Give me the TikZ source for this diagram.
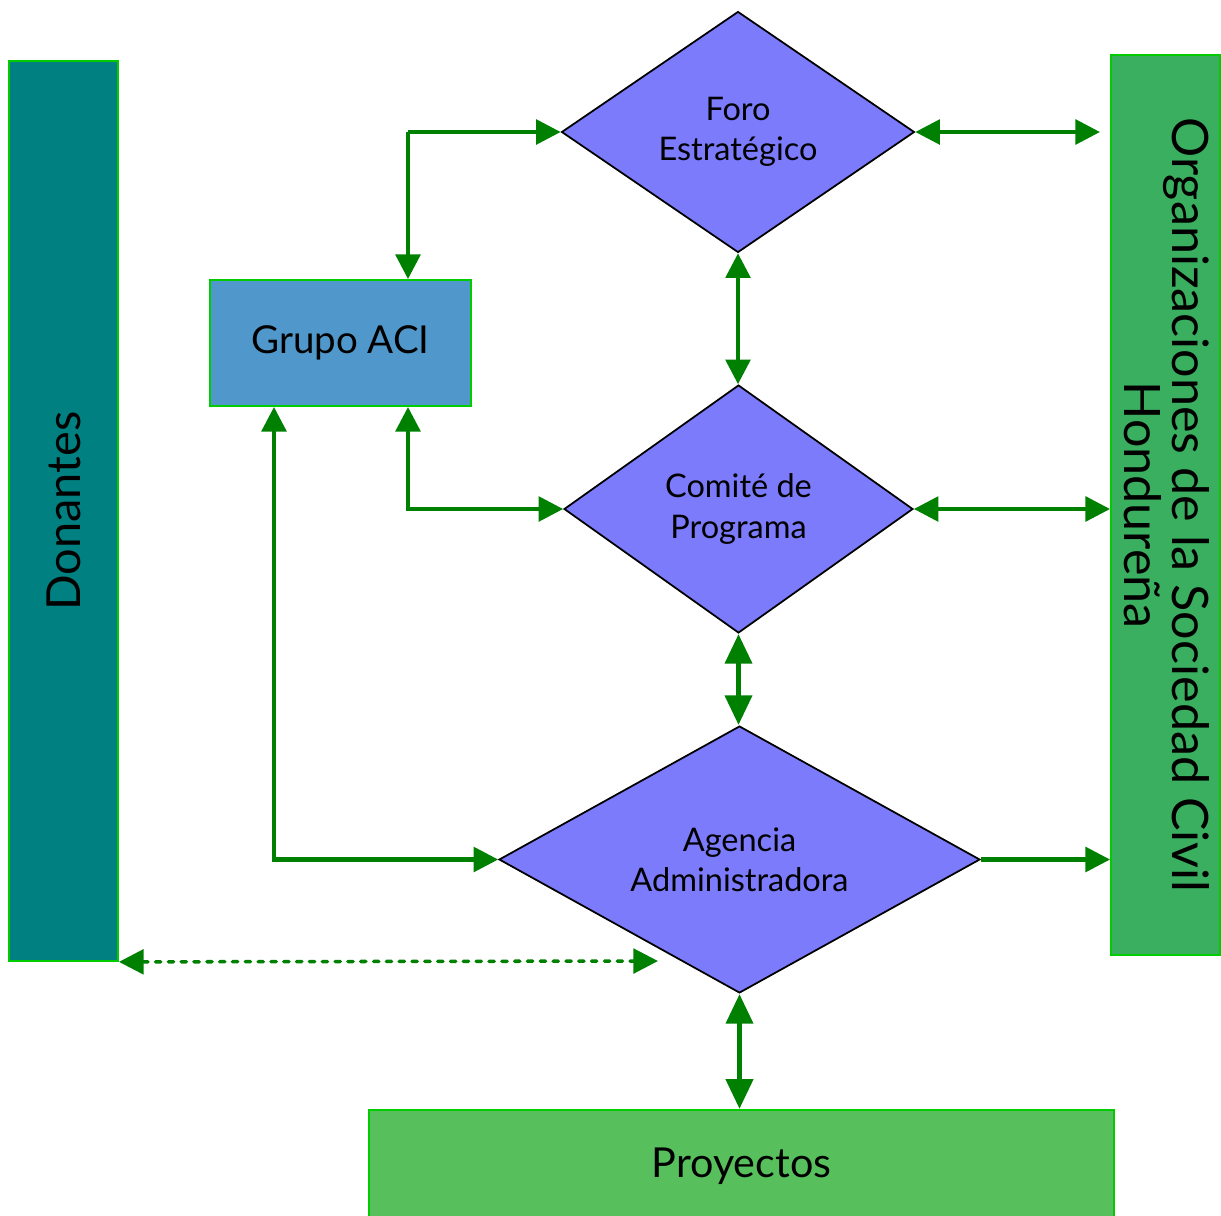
\documentclass[tikz,border=0pt]{standalone}
\usepackage{fontspec}
\setmainfont{Lato}
\usetikzlibrary{shapes.geometric,arrows.meta}
\definecolor{tealbox}{HTML}{008080}
\definecolor{orgbox}{HTML}{3AAF5F}
\definecolor{proybox}{HTML}{57C05C}
\definecolor{grupobox}{HTML}{5098CC}
\definecolor{diafill}{HTML}{7B7BFB}
\definecolor{brightgreen}{HTML}{00CC00}
\definecolor{agreen}{HTML}{008000}
\tikzset{
  box/.style={rectangle, draw=brightgreen, line width=1.1pt, inner sep=0pt, anchor=center},
  dia/.style={diamond, draw=black, line width=1pt, fill=diafill, inner sep=0pt, align=center,
    font=\fontsize{18.5pt}{22.8pt}\selectfont},
  arr/.style={draw=agreen, line width=2.3pt, -{Triangle[length=14pt,width=14pt]}},
  darr/.style={draw=agreen, line width=2.3pt, {Triangle[length=14pt,width=14pt]}-{Triangle[length=14pt,width=14pt]}},
  tarr/.style={draw=agreen, line width=3.4pt, {Triangle[length=17pt,width=15pt]}-{Triangle[length=17pt,width=15pt]}},
  dotarr/.style={draw=agreen, line width=2pt, line cap=round, dash pattern=on 3pt off 4.3pt,
    {Triangle[length=14pt,width=14pt]}-{Triangle[length=14pt,width=14pt]}}
}
\begin{document}
\begin{tikzpicture}[x=0.02cm,y=-0.02cm]
\useasboundingbox (0,0) rectangle (1221,1215);
% rectangles
\node[box, fill=tealbox, minimum width=2.18cm, minimum height=18cm] (Donantes) at (63.5,511) {};
\node[rotate=90, font=\fontsize{26.7pt}{30pt}\selectfont] (DonText) at (Donantes.center) {Donantes};
\node[box, fill=orgbox, minimum width=2.18cm, minimum height=18cm] (Org) at (1165.5,505) {};
\node[rotate=-90, align=center, font=\fontsize{28.6pt}{25.6pt}\selectfont] (OrgText) at (1167,505) {Organizaciones de la Sociedad Civil\\Hondureña};
\node[box, fill=grupobox, minimum width=5.22cm, minimum height=2.52cm, font=\fontsize{21.9pt}{24pt}\selectfont] (Grupo) at (340.5,343) {Grupo ACI};
\node[box, fill=proybox, minimum width=14.9cm, minimum height=2.24cm, font=\fontsize{23.5pt}{26pt}\selectfont] (Proyectos) at (741.5,1166) {Proyectos};
% diamonds
\node[dia, aspect=1.46, minimum width=7.06cm, minimum height=4.82cm] (Foro) at (738,132) {Foro\\Estratégico};
\node[dia, aspect=1.41, minimum width=6.98cm, minimum height=4.96cm] (Comite) at (738.5,509) {Comité de\\Programa};
\node[dia, aspect=1.8, minimum width=9.62cm, minimum height=5.34cm] (Agencia) at (739.5,859.5) {Agencia\\Administradora};
% helper coordinates
\coordinate (c1) at (408,132);
\coordinate (g3) at (274,406);
\coordinate (foroR) at (1100,132);
\coordinate (dotR) at (658,961);
% connectors
\draw[arr] (c1) -- (Foro.west);
\draw[arr] (c1) -- (c1 |- Grupo.north);
\draw[darr] (Foro.east) -- (foroR);
\draw[darr] (Foro.south) -- (Foro.south |- Comite.north);
\draw[darr] (Grupo.south -| c1) |- (Comite.west);
\draw[darr] (Comite.east) -- (Comite.east -| Org.west);
\draw[tarr] (Comite.south) -- (Comite.south |- Agencia.north);
\draw[darr] (Grupo.south -| g3) |- (Agencia.west);
\draw[arr] (Agencia.east) -- (Agencia.east -| Org.west);
\draw[dotarr] (Donantes.south east) -- (dotR);
\draw[tarr] (Agencia.south) -- (Agencia.south |- Proyectos.north);
\end{tikzpicture}
\end{document}
